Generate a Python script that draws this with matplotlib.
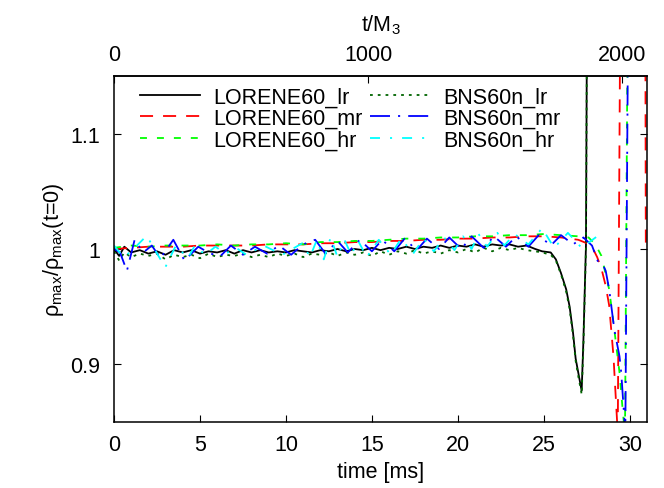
#!/usr/bin/env python
"""Central density evolution rho_max/rho_max(t=0) for LORENE60 and BNS60n runs."""
import matplotlib
matplotlib.use("Agg")
import matplotlib.pyplot as plt

# --- data (time in ms, rho_max / rho_max(t=0)) ---
t_lorene_lr = [0, 0.3, 0.6, 1.0, 1.5, 2.0, 2.5, 3.0, 3.5, 4.0, 4.5, 5.0, 5.5, 6.0, 6.5,
               7.0, 7.5, 8.0, 8.5, 9.0, 9.5, 10, 10.5, 11, 11.5, 12, 12.5, 13, 13.5, 14,
               14.5, 15, 15.5, 16, 16.5, 17, 17.5, 18, 18.5, 19, 19.5, 20, 20.5, 21, 21.5,
               22, 22.5, 23, 23.5, 24, 24.5, 24.9, 25.4, 25.7, 26.0, 26.3, 26.5, 26.7,
               26.85, 27.0, 27.2, 27.3, 27.45, 27.6]
rho_lorene_lr = [1.000, 0.994, 1.002, 0.997, 0.999, 0.996, 0.998, 0.995, 0.999, 0.997,
                 0.999, 0.996, 0.998, 0.997, 0.999, 0.996, 0.999, 0.997, 0.999, 0.997,
                 0.998, 0.997, 0.999, 0.998, 0.997, 0.999, 0.998, 1.000, 0.998, 1.000,
                 0.999, 1.001, 0.999, 1.001, 1.000, 1.002, 1.000, 1.002, 1.001, 1.003,
                 1.001, 1.003, 1.002, 1.004, 1.002, 1.004, 1.003, 1.004, 1.002, 1.003,
                 1.000, 0.998, 0.997, 0.991, 0.979, 0.965, 0.950, 0.927, 0.905, 0.893,
                 0.877, 0.920, 1.003, 1.500]

t_bns_lr = t_lorene_lr
rho_bns_lr = [0.998, 0.990, 0.997, 0.993, 0.996, 0.994, 0.996, 0.991, 0.995, 0.993,
              0.995, 0.992, 0.996, 0.993, 0.995, 0.994, 0.996, 0.993, 0.995, 0.993,
              0.996, 0.994, 0.996, 0.993, 0.996, 0.995, 0.997, 0.994, 0.997, 0.995,
              0.997, 0.994, 0.998, 0.995, 0.998, 0.996, 0.999, 0.996, 0.998, 0.996,
              0.999, 0.997, 1.000, 0.997, 1.001, 0.998, 1.001, 0.999, 1.001, 0.999,
              0.998, 0.997, 0.995, 0.990, 0.978, 0.963, 0.948, 0.925, 0.903, 0.890,
              0.874, 0.915, 1.000, 1.500]

t_lorene_mr = [0, 1, 2, 3, 4, 5, 6, 7, 8, 9, 10, 11, 12, 13, 14, 15, 16, 17, 18, 19, 20,
               21, 22, 23, 24, 25, 26, 27, 27.5, 27.8, 28.1, 28.35, 28.6, 28.8, 29.05,
               29.3, 29.6, 30.85, 30.93, 31.0]
rho_lorene_mr = [1.000, 1.001, 1.002, 1.002, 1.002, 1.003, 1.003, 1.003, 1.003, 1.004,
                 1.004, 1.004, 1.005, 1.005, 1.006, 1.006, 1.007, 1.007, 1.008, 1.008,
                 1.009, 1.009, 1.010, 1.010, 1.011, 1.011, 1.010, 1.008, 1.005, 1.002,
                 0.993, 0.983, 0.968, 0.951, 0.907, 0.840, 1.600, 1.600, 1.004, 1.002]

t_lorene_hr = [0, 1, 2, 3, 4, 5, 6, 7, 8, 9, 10, 11, 12, 13, 14, 15, 16, 17, 18, 19, 20,
               21, 22, 23, 24, 25, 26, 27, 27.6, 28.0, 28.35, 28.8, 29.1, 29.4, 29.6,
               29.72, 30.05]
rho_lorene_hr = [1.001, 1.003, 1.002, 1.003, 1.003, 1.003, 1.004, 1.003, 1.004, 1.004,
                 1.005, 1.004, 1.006, 1.006, 1.007, 1.007, 1.008, 1.009, 1.009, 1.010,
                 1.010, 1.011, 1.011, 1.012, 1.012, 1.013, 1.012, 1.011, 1.010, 1.004,
                 0.994, 0.965, 0.930, 0.893, 0.858, 0.840, 1.600]

t_bns_mr = [0, 0.35, 0.75, 1.2, 1.7, 2.2, 2.7, 3.45, 4.1, 4.9, 5.6, 6.2, 6.8, 7.5, 8.2,
            8.9, 9.6, 10.3, 11.0, 11.7, 12.3, 13.0, 13.6, 14.3, 15.0, 15.6, 16.3, 16.9,
            17.6, 18.2, 18.9, 19.5, 20.2, 20.8, 21.5, 22.1, 22.8, 23.4, 24.1, 24.7,
            25.4, 26.0, 26.7, 27.3, 27.8, 28.15, 28.45, 28.6, 28.8, 29.1, 29.4, 29.5,
            29.74, 30.08]
rho_bns_mr = [1.000, 0.997, 0.981, 1.008, 0.997, 1.003, 0.992, 1.008, 0.990, 1.002,
              0.996, 0.994, 1.003, 0.995, 1.002, 0.996, 1.003, 0.995, 1.004, 1.008,
              0.996, 1.007, 0.997, 1.008, 0.998, 1.008, 0.998, 1.009, 0.999, 1.009,
              1.000, 1.010, 1.000, 1.011, 1.001, 1.011, 1.002, 1.011, 1.002, 1.012,
              1.003, 1.012, 1.004, 1.010, 1.003, 0.989, 0.986, 0.981, 0.965, 0.930,
              0.907, 0.893, 0.840, 1.600]

t_bns_hr = [0, 0.55, 1.0, 1.9, 2.98, 3.6, 4.3, 4.7, 5.3, 5.9, 6.5, 7.1, 7.7, 8.7, 9.8,
            10.95, 11.4, 11.8, 12.2, 12.6, 13.0, 13.4, 13.8, 14.2, 14.7, 15.4, 16.1,
            16.7, 17.4, 18.0, 18.6, 19.2, 19.8, 20.3, 20.8, 21.2, 21.7, 22.3, 22.7,
            23.3, 24.1, 24.9, 25.6, 26.4, 27.2, 28.1, 28.4]
rho_bns_hr = [1.003, 0.993, 0.998, 1.0115, 0.984, 1.003, 0.992, 1.003, 0.995, 1.002,
              0.996, 1.001, 0.995, 1.003, 0.995, 1.005, 0.993, 1.008, 0.991, 1.010,
              0.993, 1.008, 0.995, 1.007, 0.993, 1.008, 0.995, 1.009, 0.996, 1.009,
              0.998, 1.010, 0.999, 1.011, 1.000, 1.013, 1.002, 1.014, 1.003, 1.013,
              1.004, 1.018, 1.001, 1.014, 1.001, 1.011, 1.007]

ms_per_m3 = 3 * 4.9255e-3  # 1 M3 in ms (M3 = 3 Msun)

plt.rcParams["font.family"] = ["Liberation Sans", "DejaVu Sans"]
plt.rcParams["mathtext.fontset"] = "custom"
plt.rcParams["mathtext.rm"] = "Liberation Sans"
plt.rcParams["mathtext.it"] = "Liberation Sans"
plt.rcParams["lines.scale_dashes"] = False
FS = 15.5

fig = plt.figure(figsize=(6.64, 4.89), dpi=100)
ax = fig.add_axes([114 / 664, 1 - 423 / 489, (647 - 114) / 664, (423 - 77) / 489])

lw = 1.3
# gnuplot order: LORENE runs first, then BNS runs (legend is filled column by column)
series = [
    ("LORENE60_lr", t_lorene_lr, rho_lorene_lr, dict(color="black", ls="-")),
    ("LORENE60_mr", t_lorene_mr, rho_lorene_mr, dict(color="#ff0000", ls=(0, (9.4, 7.2)))),
    ("LORENE60_hr", t_lorene_hr, rho_lorene_hr, dict(color="#00ff00", ls=(0, (5.0, 7.2)))),
    ("BNS60n_lr", t_bns_lr, rho_bns_lr, dict(color="#006400", ls=(0, (2.0, 3.6)))),
    ("BNS60n_mr", t_bns_mr, rho_bns_mr, dict(color="#0000ff", ls=(0, (14.4, 5.8, 1.5, 5.8)))),
    ("BNS60n_hr", t_bns_hr, rho_bns_hr, dict(color="#00ffff", ls=(0, (7.2, 7.2, 1.5, 7.2)))),
]
for lab, t, r, st in series:
    ax.plot(t, r, lw=lw, label=lab, **st)

ax.set_xlim(0, 31.0)
ax.set_ylim(0.85, 1.15)
ax.set_xticks([0, 5, 10, 15, 20, 25, 30])
ax.set_yticks([0.9, 1.0, 1.1])
ax.set_yticklabels(["0.9", "1", "1.1"])
ax.tick_params(direction="in", length=5, width=0.8, labelsize=FS,
               top=False, right=True, pad=9)
ax.tick_params(axis="y", pad=10)
for sp in ax.spines.values():
    sp.set_linewidth(1.1)

ax.set_xlabel("time [ms]", fontsize=FS, labelpad=4)
ax.set_ylabel(r"ρ$_{\rm max}$/ρ$_{\rm max}$(t=0)", fontsize=FS, labelpad=3)

sec = ax.secondary_xaxis("top", functions=(lambda t: t / ms_per_m3, lambda m: m * ms_per_m3))
sec.set_xticks([0, 1000, 2000])
sec.tick_params(direction="in", length=5, width=0.8, labelsize=FS, pad=8)
sec.spines["top"].set_linewidth(1.1)
sec.set_xlabel(r"t/M$_3$", fontsize=FS, labelpad=10)

leg = ax.legend(ncol=2, loc="upper left", bbox_to_anchor=(0.049, 0.97), frameon=False,
                fontsize=FS, handlelength=2.8, handletextpad=0.6, columnspacing=0.33,
                labelspacing=0.02, borderpad=0, borderaxespad=0)

fig.savefig("out.png", dpi=100)
